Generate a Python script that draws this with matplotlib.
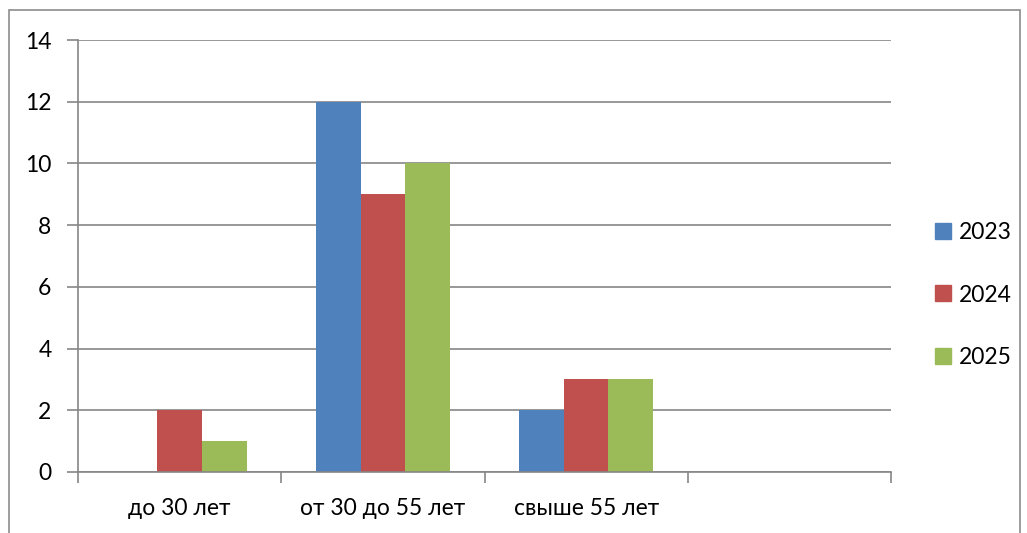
import matplotlib
matplotlib.use("Agg")
import matplotlib.pyplot as plt
from matplotlib.patches import Rectangle
from matplotlib.lines import Line2D
import numpy as np

categories = ["до 30 лет", "от 30 до 55 лет", "свыше 55 лет", ""]
series_names = ["2023", "2024", "2025"]
values_2023 = [0, 12, 2, 0]
values_2024 = [2, 9, 3, 0]
values_2025 = [1, 10, 3, 0]
y_ticks = [0, 2, 4, 6, 8, 10, 12, 14]

colors = ["#4F81BD", "#C0504D", "#9BBB59"]
grid_c = "#868686"

plt.rcParams['font.family'] = ['Lato', 'DejaVu Sans']
FS = 16.5

W, H = 1027, 533
fig = plt.figure(figsize=(W/100, H/100), dpi=100)
fig.patch.set_facecolor("white")
# outer chart border
fig.add_artist(Rectangle((9/W, -0.05), (1020-9)/W, (H-10)/H + 0.05, transform=fig.transFigure,
                         fill=False, edgecolor="#8C8C8C", linewidth=1.2))

ax = fig.add_axes([78/W, (H-472)/H, (891-78)/W, (472-40)/H])
x = np.arange(len(categories)) + 0.5
bw = 0.22
data = [values_2023, values_2024, values_2025]
for i, (vals, c) in enumerate(zip(data, colors)):
    ax.bar(x + (i-1)*bw, vals, width=bw, color=c, zorder=3, label=series_names[i])

ax.set_xlim(0, 4)
ax.set_ylim(0, 14)
ax.set_yticks(y_ticks)
ax.set_yticklabels([str(v) for v in y_ticks], fontsize=FS)
ax.yaxis.grid(True, color=grid_c, linewidth=1.2, zorder=0)
ax.set_xticks([0, 1, 2, 3, 4])
ax.set_xticklabels([])
ax.set_xticks(x, minor=True)
ax.set_xticklabels(categories, minor=True, fontsize=FS)
ax.tick_params(axis='x', which='minor', length=0, pad=19)
ax.tick_params(axis='x', which='major', length=8, color=grid_c, width=1.2, direction='out')
ax.tick_params(axis='y', length=8, color=grid_c, width=1.2, direction='out', pad=11)
for s in ["top", "right"]:
    ax.spines[s].set_visible(False)
for s in ["left", "bottom"]:
    ax.spines[s].set_color(grid_c)
    ax.spines[s].set_linewidth(1.2)
    ax.spines[s].set_zorder(4)

handles = [Line2D([], [], marker='s', linestyle='none', markersize=11, markerfacecolor=c,
                  markeredgecolor=c) for c in colors]
fig.legend(handles, series_names, loc='center left', bbox_to_anchor=(918/W, (H-295)/H),
           frameon=False, fontsize=FS, labelspacing=1.82, handletextpad=0.1, handlelength=1.2,
           borderpad=0)

fig.savefig("out.png", dpi=100)
